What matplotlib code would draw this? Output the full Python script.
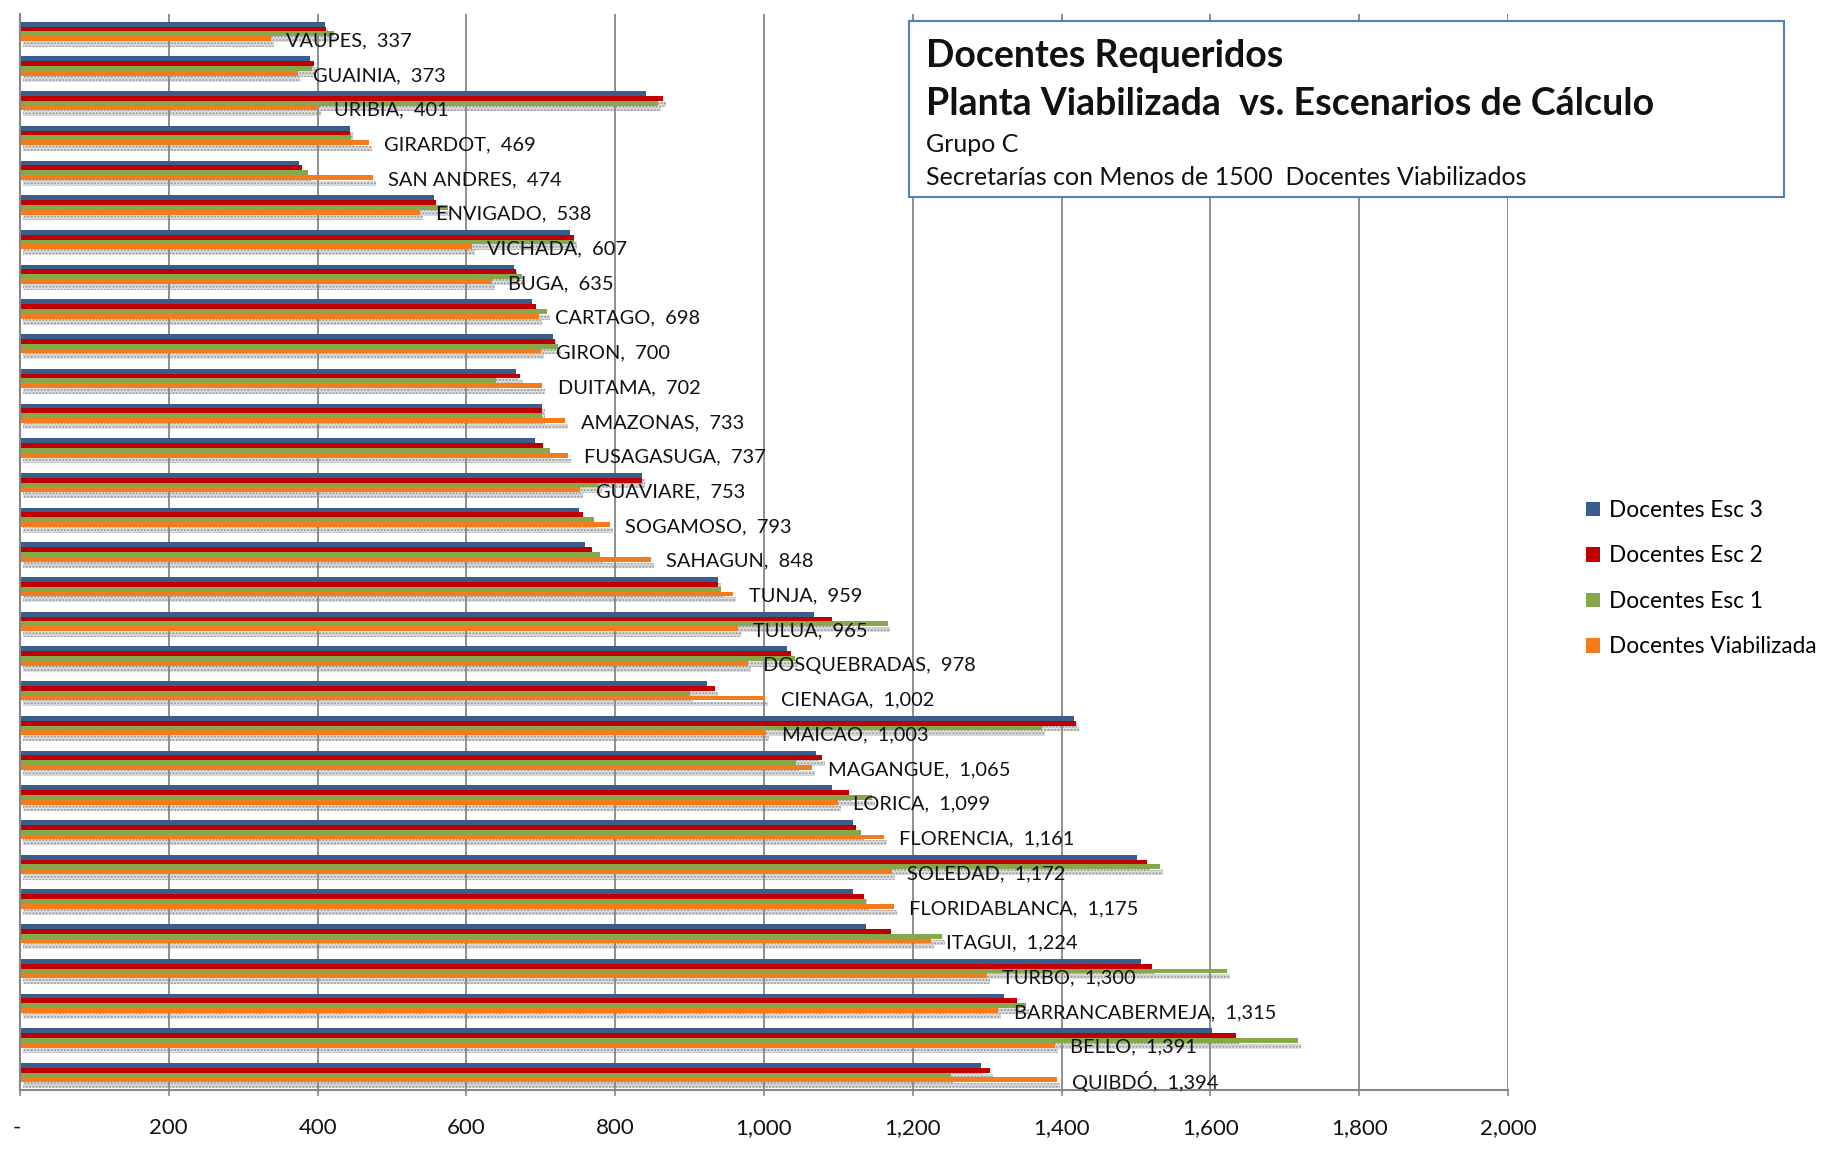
import numpy as np
import matplotlib
matplotlib.use('Agg')
import matplotlib.pyplot as plt
from matplotlib.patches import Patch, Rectangle

plt.rcParams['font.family'] = ['Lato', 'DejaVu Sans']
plt.rcParams['hatch.linewidth'] = 1.0

# Data (top to bottom as shown in the chart)
categories = ['VAUPES', 'GUAINIA', 'URIBIA', 'GIRARDOT', 'SAN ANDRES', 'ENVIGADO',
              'VICHADA', 'BUGA', 'CARTAGO', 'GIRON', 'DUITAMA', 'AMAZONAS',
              'FUSAGASUGA', 'GUAVIARE', 'SOGAMOSO', 'SAHAGUN', 'TUNJA', 'TULUA',
              'DOSQUEBRADAS', 'CIENAGA', 'MAICAO', 'MAGANGUE', 'LORICA', 'FLORENCIA',
              'SOLEDAD', 'FLORIDABLANCA', 'ITAGUI', 'TURBO', 'BARRANCABERMEJA',
              'BELLO', 'QUIBDÓ']
esc3 = [410, 390, 841, 443, 375, 556, 739, 664, 688, 716, 667, 702, 692, 836, 751, 759,
        938, 1067, 1031, 924, 1417, 1070, 1091, 1119, 1501, 1119, 1137, 1507, 1322, 1602, 1291]
esc2 = [411, 395, 864, 443, 379, 559, 744, 666, 693, 719, 672, 702, 703, 836, 757, 769,
        938, 1091, 1036, 934, 1419, 1078, 1114, 1124, 1515, 1134, 1171, 1522, 1340, 1635, 1304]
esc1 = [422, 393, 857, 445, 387, 575, 745, 675, 708, 723, 640, 701, 713, 778, 772, 780,
        942, 1166, 1042, 900, 1374, 1043, 1145, 1130, 1532, 1137, 1239, 1622, 1352, 1718, 1252]
viabilizada = [337, 373, 401, 469, 474, 538, 607, 635, 698, 700, 702, 733, 737, 753, 793, 848,
               959, 965, 978, 1002, 1003, 1065, 1099, 1161, 1172, 1175, 1224, 1300, 1315, 1391, 1394]
x_ticks = [0, 200, 400, 600, 800, 1000, 1200, 1400, 1600, 1800, 2000]

series = [
    ('Docentes Esc 3', esc3, '#395E8E'),
    ('Docentes Esc 2', esc2, '#C00000'),
    ('Docentes Esc 1', esc1, '#87A84A'),
    ('Docentes Viabilizada', viabilizada, '#F47C1C'),
]

GRID = '#868686'
TXT = '#111111'

fig = plt.figure(figsize=(18.39, 11.6), dpi=100)
ax = fig.add_axes([20 / 1839, 1 - 1090 / 1160, 1488 / 1839, 1076 / 1160])

n = len(categories)
ypos = np.arange(n)[::-1]
h = 0.139
offsets = [1.5 * h, 0.5 * h, -0.5 * h, -1.5 * h]

# soft shadows (dotted grey), shifted right / down
for (name, vals, col), off in zip(series, offsets):
    ax.barh(ypos + off - 0.17, vals, height=h, left=4, color='#dedede',
            hatch='.....', edgecolor='#969696', linewidth=0, zorder=1)

for (name, vals, col), off in zip(series, offsets):
    ax.barh(ypos + off, vals, height=h, color=col, linewidth=0, zorder=3)

# data labels on the Viabilizada bars
for y, name, v in zip(ypos, categories, viabilizada):
    ax.annotate(f"{name},  {v:,}", xy=(v, y + offsets[3]), xytext=(11, -1.5),
                textcoords='offset points', va='center', ha='left',
                fontsize=14.4, color=TXT, zorder=5)

ax.set_xlim(0, 2000)
ax.set_ylim(-0.5, n - 0.5)
ax.set_yticks([])
ax.set_xticks(x_ticks)
ax.set_xticklabels(['- '] + [f"{t:,}" for t in x_ticks[1:]])
ax.tick_params(axis='x', length=4, color=GRID, width=1.2, pad=16, labelsize=16, labelcolor=TXT)
ax.grid(True, axis='x', color=GRID, linewidth=1.3, zorder=2)
ax.set_axisbelow(False)
for gl in ax.get_xgridlines():
    gl.set_zorder(2)
for s in ['top', 'right']:
    ax.spines[s].set_visible(False)
for s in ['left', 'bottom']:
    ax.spines[s].set_color(GRID)
    ax.spines[s].set_linewidth(1.5)
    ax.spines[s].set_zorder(4)

# title box
box = Rectangle((909 / 1839, 1 - 197 / 1160), 875 / 1839, 176 / 1160,
                transform=fig.transFigure, facecolor='white', edgecolor='#4F81BD',
                linewidth=1.5, zorder=10)
fig.patches.append(box)
tx = 926 / 1839
fig.text(tx, 1 - 56 / 1160, 'Docentes Requeridos', fontsize=27, fontweight='bold',
         va='center', ha='left', color=TXT, zorder=11)
fig.text(tx, 1 - 104 / 1160, 'Planta Viabilizada  vs. Escenarios de Cálculo', fontsize=27,
         fontweight='bold', va='center', ha='left', color=TXT, zorder=11)
fig.text(tx, 1 - 144 / 1160, 'Grupo C', fontsize=18, va='center', ha='left', color=TXT, zorder=11)
fig.text(tx, 1 - 177 / 1160, 'Secretarías con Menos de 1500  Docentes Viabilizados', fontsize=18,
         va='center', ha='left', color=TXT, zorder=11)

# legend
handles = [Patch(facecolor=c, edgecolor='none') for _, _, c in series]
fig.legend(handles, [s[0] for s in series], loc='upper left',
           bbox_to_anchor=(1586 / 1839, 1 - 500 / 1160), frameon=False, fontsize=16.3,
           handlelength=0.6, handleheight=0.6, handletextpad=0.4, labelspacing=1.08,
           borderpad=0, borderaxespad=0)

fig.savefig('out.png', dpi=100, facecolor='white')
